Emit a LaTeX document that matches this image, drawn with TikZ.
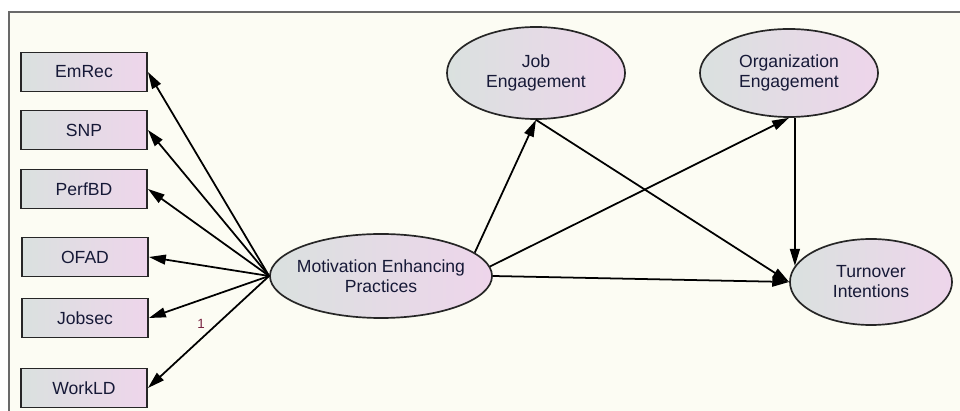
\documentclass[tikz,border=0pt]{standalone}
\usepackage{fontspec}
\setmainfont{Liberation Sans}
\usepackage{xcolor}
\usepackage{tikz}
\usetikzlibrary{arrows.meta, shapes.geometric}

\definecolor{bgcol}{RGB}{252,252,243}
\definecolor{framecol}{RGB}{105,105,105}
\definecolor{leftcol}{RGB}{218,225,223}
\definecolor{rightcol}{RGB}{238,213,235}
\definecolor{txtcol}{RGB}{22,25,55}
\definecolor{numcol}{RGB}{120,35,65}

\tikzset{
	obs/.style = {draw=black!85, line width=1.3pt, rectangle, left color=leftcol, right color=rightcol,
		minimum width=3.15cm, minimum height=0.975cm, text=txtcol, font=\fontsize{12.5}{14.2}\selectfont},
	lat/.style = {draw=black!85, line width=1.2pt, ellipse, left color=leftcol, right color=rightcol,
		inner xsep=-8pt, inner ysep=0pt, align=center, text=txtcol, font=\fontsize{12.5}{14.2}\selectfont},
	num/.style = {text=numcol, inner sep=2pt, font=\fontsize{9.5}{10}\selectfont}
}

\begin{document}
\begin{tikzpicture}[x=0.025cm, y=-0.025cm]
		\useasboundingbox (0,0) rectangle (960,411);
		
		\fill[bgcol] (9,12) rectangle (960,411);
		\draw[framecol, line width=1.2pt] (960,12) -- (9,12) -- (9,411);
		
		\node[obs] (emrec) at (84,72) {EmRec};
		\node[obs] (snp) at (84,130) {SNP};
		\node[obs] (perfbd) at (84,189) {PerfBD};
		\node[obs] (ofad) at (85,257) {OFAD};
		\node[obs] (jobsec) at (85,318) {Jobsec};
		\node[obs] (workld) at (84,388) {WorkLD};
		
		\node[lat, minimum width=5.55cm, minimum height=2.1cm] (mep) at (381,276) {Motivation Enhancing\\Practices};
		\node[lat, minimum width=4.45cm, minimum height=2.3cm] (je) at (536,73) {Job\\Engagement};
		\node[lat, minimum width=4.45cm, minimum height=2.2cm] (oe) at (789,73) {Organization\\Engagement};
		\node[lat, minimum width=4.05cm, minimum height=2.15cm] (ti) at (871,282) {Turnover\\Intentions};
		
		\begin{scope}[line width=1.25pt, -{Triangle[length=12pt, width=7pt]}]
			\foreach \n in {emrec, snp, perfbd, ofad, jobsec}
				\draw (mep.west) -- (\n.east);
			\draw (mep.west) -- (workld.east) node [pos=0.5, above left=0pt, num] {1};
			\draw (mep.14) -- (je.south);
			\draw (mep.5) -- (oe.south);
			\draw (mep.east) -- (ti.west);
			\draw (je.south) -- (ti.west);
			\draw (ti.168 |- oe.south) -- (ti.168);
		\end{scope}
	\end{tikzpicture}
\end{document}
